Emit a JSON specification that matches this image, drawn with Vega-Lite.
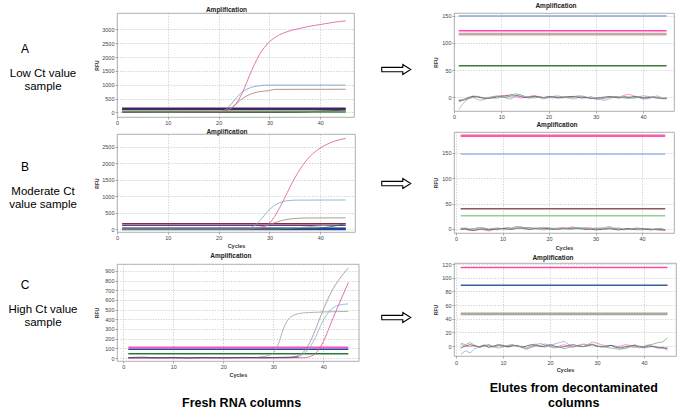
{
"$schema": "https://vega.github.io/schema/vega-lite/v6.json",
"padding": {"left": 0, "top": 2, "right": 0, "bottom": 0},
"spacing": 0,
"datasets": {
"labels": [
{"g":"A","k":"letter","t":"A"},{"g":"A","k":"desc","t":"Low Ct value\nsample"},
{"g":"B","k":"letter","t":"B"},{"g":"B","k":"desc","t":"Moderate Ct\nvalue sample"},
{"g":"C","k":"letter","t":"C"},{"g":"C","k":"desc","t":"High Ct value\nsample"}
],
"aL": [
{"s":"t1","c":1,"v":140},{"s":"t1","c":45,"v":140},
{"s":"t2","c":1,"v":110},{"s":"t2","c":45,"v":110},
{"s":"t3","c":1,"v":45},{"s":"t3","c":45,"v":45},
{"s":"t4","c":1,"v":15},{"s":"t4","c":45,"v":15},
{"s":"p","c":1,"v":0},{"s":"p","c":18,"v":5},{"s":"p","c":19,"v":10},{"s":"p","c":20,"v":25},{"s":"p","c":21,"v":60},{"s":"p","c":22,"v":120},{"s":"p","c":23,"v":220},{"s":"p","c":24,"v":480},{"s":"p","c":25,"v":850},{"s":"p","c":26,"v":1300},{"s":"p","c":27,"v":1720},{"s":"p","c":28,"v":2080},{"s":"p","c":29,"v":2350},{"s":"p","c":30,"v":2560},{"s":"p","c":31,"v":2700},{"s":"p","c":32,"v":2810},{"s":"p","c":33,"v":2890},{"s":"p","c":34,"v":2950},{"s":"p","c":35,"v":3000},{"s":"p","c":36,"v":3040},{"s":"p","c":37,"v":3080},{"s":"p","c":38,"v":3120},{"s":"p","c":39,"v":3150},{"s":"p","c":40,"v":3180},{"s":"p","c":41,"v":3210},{"s":"p","c":42,"v":3240},{"s":"p","c":43,"v":3270},{"s":"p","c":44,"v":3290},{"s":"p","c":45,"v":3310},
{"s":"b","c":1,"v":0},{"s":"b","c":19,"v":5},{"s":"b","c":20,"v":20},{"s":"b","c":21,"v":70},{"s":"b","c":22,"v":200},{"s":"b","c":23,"v":420},{"s":"b","c":24,"v":630},{"s":"b","c":25,"v":780},{"s":"b","c":26,"v":880},{"s":"b","c":27,"v":935},{"s":"b","c":28,"v":965},{"s":"b","c":29,"v":985},{"s":"b","c":30,"v":990},{"s":"b","c":45,"v":990},
{"s":"m","c":1,"v":0},{"s":"m","c":20,"v":5},{"s":"m","c":21,"v":30},{"s":"m","c":22,"v":100},{"s":"m","c":23,"v":240},{"s":"m","c":24,"v":400},{"s":"m","c":25,"v":540},{"s":"m","c":26,"v":640},{"s":"m","c":27,"v":710},{"s":"m","c":28,"v":750},{"s":"m","c":29,"v":775},{"s":"m","c":30,"v":790},{"s":"m","c":31,"v":835},{"s":"m","c":45,"v":840},
{"s":"k","c":1,"v":5},{"s":"k","c":30,"v":5},{"s":"k","c":35,"v":15},{"s":"k","c":38,"v":30},{"s":"k","c":40,"v":45},{"s":"k","c":42,"v":60},{"s":"k","c":44,"v":80},{"s":"k","c":45,"v":95},
{"s":"g","c":1,"v":15},{"s":"g","c":10,"v":10},{"s":"g","c":20,"v":20},{"s":"g","c":30,"v":25},{"s":"g","c":40,"v":40},{"s":"g","c":45,"v":50}
],
"bL": [
{"s":"t1","c":1,"v":160},{"s":"t1","c":45,"v":160},
{"s":"t2","c":1,"v":110},{"s":"t2","c":45,"v":110},
{"s":"t3","c":1,"v":25},{"s":"t3","c":45,"v":25},
{"s":"t4","c":1,"v":0},{"s":"t4","c":45,"v":0},
{"s":"p","c":1,"v":0},{"s":"p","c":26,"v":5},{"s":"p","c":27,"v":10},{"s":"p","c":28,"v":20},{"s":"p","c":29,"v":60},{"s":"p","c":30,"v":180},{"s":"p","c":31,"v":380},{"s":"p","c":32,"v":650},{"s":"p","c":33,"v":950},{"s":"p","c":34,"v":1270},{"s":"p","c":35,"v":1560},{"s":"p","c":36,"v":1820},{"s":"p","c":37,"v":2040},{"s":"p","c":38,"v":2220},{"s":"p","c":39,"v":2360},{"s":"p","c":40,"v":2470},{"s":"p","c":41,"v":2560},{"s":"p","c":42,"v":2630},{"s":"p","c":43,"v":2690},{"s":"p","c":44,"v":2730},{"s":"p","c":45,"v":2760},
{"s":"b","c":1,"v":0},{"s":"b","c":24,"v":5},{"s":"b","c":25,"v":15},{"s":"b","c":26,"v":35},{"s":"b","c":27,"v":100},{"s":"b","c":28,"v":230},{"s":"b","c":29,"v":420},{"s":"b","c":30,"v":590},{"s":"b","c":31,"v":720},{"s":"b","c":32,"v":800},{"s":"b","c":33,"v":850},{"s":"b","c":34,"v":870},{"s":"b","c":35,"v":880},{"s":"b","c":45,"v":885},
{"s":"m","c":1,"v":0},{"s":"m","c":26,"v":5},{"s":"m","c":27,"v":20},{"s":"m","c":28,"v":50},{"s":"m","c":29,"v":90},{"s":"m","c":30,"v":140},{"s":"m","c":31,"v":190},{"s":"m","c":32,"v":240},{"s":"m","c":33,"v":280},{"s":"m","c":34,"v":305},{"s":"m","c":35,"v":320},{"s":"m","c":36,"v":330},{"s":"m","c":37,"v":335},{"s":"m","c":45,"v":340},
{"s":"g","c":1,"v":0},{"s":"g","c":32,"v":5},{"s":"g","c":34,"v":20},{"s":"g","c":36,"v":45},{"s":"g","c":38,"v":75},{"s":"g","c":40,"v":100},{"s":"g","c":42,"v":120},{"s":"g","c":44,"v":135},{"s":"g","c":45,"v":140},
{"s":"k","c":1,"v":0},{"s":"k","c":38,"v":5},{"s":"k","c":40,"v":30},{"s":"k","c":42,"v":70},{"s":"k","c":44,"v":130},{"s":"k","c":45,"v":170}
],
"cL": [
{"s":"t1","c":1,"v":110},{"s":"t1","c":45,"v":110},
{"s":"t2","c":1,"v":90},{"s":"t2","c":45,"v":90},
{"s":"t3","c":1,"v":45},{"s":"t3","c":45,"v":45},
{"s":"g1","c":1,"v":0},{"s":"g1","c":33,"v":3},{"s":"g1","c":34,"v":10},{"s":"g1","c":35,"v":25},{"s":"g1","c":36,"v":60},{"s":"g1","c":37,"v":130},{"s":"g1","c":38,"v":240},{"s":"g1","c":39,"v":370},{"s":"g1","c":40,"v":500},{"s":"g1","c":41,"v":620},{"s":"g1","c":42,"v":720},{"s":"g1","c":43,"v":800},{"s":"g1","c":44,"v":870},{"s":"g1","c":45,"v":930},
{"s":"g2","c":1,"v":0},{"s":"g2","c":26,"v":3},{"s":"g2","c":27,"v":8},{"s":"g2","c":28,"v":15},{"s":"g2","c":29,"v":25},{"s":"g2","c":30,"v":55},{"s":"g2","c":31,"v":140},{"s":"g2","c":32,"v":300},{"s":"g2","c":33,"v":400},{"s":"g2","c":34,"v":440},{"s":"g2","c":35,"v":458},{"s":"g2","c":36,"v":466},{"s":"g2","c":37,"v":470},{"s":"g2","c":38,"v":472},{"s":"g2","c":39,"v":474},{"s":"g2","c":40,"v":476},{"s":"g2","c":45,"v":482},
{"s":"bl","c":1,"v":0},{"s":"bl","c":34,"v":3},{"s":"bl","c":35,"v":15},{"s":"bl","c":36,"v":40},{"s":"bl","c":37,"v":90},{"s":"bl","c":38,"v":170},{"s":"bl","c":39,"v":280},{"s":"bl","c":40,"v":390},{"s":"bl","c":41,"v":470},{"s":"bl","c":42,"v":520},{"s":"bl","c":43,"v":545},{"s":"bl","c":44,"v":555},{"s":"bl","c":45,"v":560},
{"s":"pk","c":1,"v":0},{"s":"pk","c":36,"v":3},{"s":"pk","c":37,"v":10},{"s":"pk","c":38,"v":30},{"s":"pk","c":39,"v":80},{"s":"pk","c":40,"v":170},{"s":"pk","c":41,"v":290},{"s":"pk","c":42,"v":420},{"s":"pk","c":43,"v":540},{"s":"pk","c":44,"v":660},{"s":"pk","c":45,"v":780},
{"s":"pu","c":1,"v":4},{"s":"pu","c":4,"v":8},{"s":"pu","c":7,"v":2},{"s":"pu","c":10,"v":6},{"s":"pu","c":13,"v":0},{"s":"pu","c":16,"v":5},{"s":"pu","c":20,"v":2},{"s":"pu","c":24,"v":6},{"s":"pu","c":28,"v":3},{"s":"pu","c":32,"v":7},{"s":"pu","c":35,"v":10}
],
"aR": [
{"s":"t1","c":1,"v":149},{"s":"t1","c":45,"v":149},
{"s":"t2","c":1,"v":122},{"s":"t2","c":45,"v":122},
{"s":"t3","c":1,"v":116},{"s":"t3","c":45,"v":116},
{"s":"t4","c":1,"v":58},{"s":"t4","c":45,"v":58},
{"s":"n1","c":1,"v":-4},{"s":"n1","c":2,"v":-5},{"s":"n1","c":3,"v":-2},{"s":"n1","c":4,"v":3},{"s":"n1","c":5,"v":2},{"s":"n1","c":6,"v":-1},{"s":"n1","c":7,"v":0},{"s":"n1","c":8,"v":1},{"s":"n1","c":9,"v":2},{"s":"n1","c":10,"v":4},{"s":"n1","c":11,"v":3},{"s":"n1","c":12,"v":1},{"s":"n1","c":13,"v":2},{"s":"n1","c":14,"v":-1},{"s":"n1","c":15,"v":0},{"s":"n1","c":16,"v":2},{"s":"n1","c":17,"v":4},{"s":"n1","c":18,"v":1},{"s":"n1","c":19,"v":-1},{"s":"n1","c":20,"v":0},{"s":"n1","c":21,"v":2},{"s":"n1","c":22,"v":1},{"s":"n1","c":23,"v":-1},{"s":"n1","c":24,"v":2},{"s":"n1","c":25,"v":1},{"s":"n1","c":26,"v":3},{"s":"n1","c":27,"v":2},{"s":"n1","c":28,"v":0},{"s":"n1","c":29,"v":-1},{"s":"n1","c":30,"v":-2},{"s":"n1","c":31,"v":-3},{"s":"n1","c":32,"v":-1},{"s":"n1","c":33,"v":1},{"s":"n1","c":34,"v":2},{"s":"n1","c":35,"v":1},{"s":"n1","c":36,"v":4},{"s":"n1","c":37,"v":6},{"s":"n1","c":38,"v":3},{"s":"n1","c":39,"v":1},{"s":"n1","c":40,"v":-1},{"s":"n1","c":41,"v":-2},{"s":"n1","c":42,"v":1},{"s":"n1","c":43,"v":3},{"s":"n1","c":44,"v":0},{"s":"n1","c":45,"v":-2},
{"s":"n2","c":1,"v":-22},{"s":"n2","c":2,"v":-10},{"s":"n2","c":3,"v":-3},{"s":"n2","c":4,"v":1},{"s":"n2","c":5,"v":-4},{"s":"n2","c":6,"v":-5},{"s":"n2","c":7,"v":-2},{"s":"n2","c":8,"v":0},{"s":"n2","c":9,"v":-2},{"s":"n2","c":10,"v":1},{"s":"n2","c":11,"v":-1},{"s":"n2","c":12,"v":-3},{"s":"n2","c":13,"v":2},{"s":"n2","c":14,"v":5},{"s":"n2","c":15,"v":1},{"s":"n2","c":16,"v":-2},{"s":"n2","c":17,"v":3},{"s":"n2","c":18,"v":0},{"s":"n2","c":19,"v":-3},{"s":"n2","c":20,"v":1},{"s":"n2","c":21,"v":-1},{"s":"n2","c":22,"v":0},{"s":"n2","c":23,"v":2},{"s":"n2","c":24,"v":1},{"s":"n2","c":25,"v":-3},{"s":"n2","c":26,"v":-1},{"s":"n2","c":27,"v":1},{"s":"n2","c":28,"v":-1},{"s":"n2","c":29,"v":2},{"s":"n2","c":30,"v":-2},{"s":"n2","c":31,"v":-4},{"s":"n2","c":32,"v":-5},{"s":"n2","c":33,"v":-2},{"s":"n2","c":34,"v":1},{"s":"n2","c":35,"v":0},{"s":"n2","c":36,"v":2},{"s":"n2","c":37,"v":1},{"s":"n2","c":38,"v":-2},{"s":"n2","c":39,"v":0},{"s":"n2","c":40,"v":-3},{"s":"n2","c":41,"v":-2},{"s":"n2","c":42,"v":0},{"s":"n2","c":43,"v":1},{"s":"n2","c":44,"v":-2},{"s":"n2","c":45,"v":-3},
{"s":"n3","c":1,"v":-6},{"s":"n3","c":2,"v":-4},{"s":"n3","c":3,"v":0},{"s":"n3","c":4,"v":2},{"s":"n3","c":5,"v":1},{"s":"n3","c":6,"v":-1},{"s":"n3","c":7,"v":-2},{"s":"n3","c":8,"v":-1},{"s":"n3","c":9,"v":1},{"s":"n3","c":10,"v":2},{"s":"n3","c":11,"v":3},{"s":"n3","c":12,"v":5},{"s":"n3","c":13,"v":4},{"s":"n3","c":14,"v":2},{"s":"n3","c":15,"v":0},{"s":"n3","c":16,"v":1},{"s":"n3","c":17,"v":2},{"s":"n3","c":18,"v":1},{"s":"n3","c":19,"v":0},{"s":"n3","c":20,"v":2},{"s":"n3","c":21,"v":1},{"s":"n3","c":22,"v":-1},{"s":"n3","c":23,"v":0},{"s":"n3","c":24,"v":1},{"s":"n3","c":25,"v":2},{"s":"n3","c":26,"v":1},{"s":"n3","c":27,"v":-1},{"s":"n3","c":28,"v":0},{"s":"n3","c":29,"v":-2},{"s":"n3","c":30,"v":-1},{"s":"n3","c":31,"v":0},{"s":"n3","c":32,"v":1},{"s":"n3","c":33,"v":2},{"s":"n3","c":34,"v":0},{"s":"n3","c":35,"v":-1},{"s":"n3","c":36,"v":1},{"s":"n3","c":37,"v":0},{"s":"n3","c":38,"v":2},{"s":"n3","c":39,"v":1},{"s":"n3","c":40,"v":-1},{"s":"n3","c":41,"v":0},{"s":"n3","c":42,"v":1},{"s":"n3","c":43,"v":-1},{"s":"n3","c":44,"v":-2},{"s":"n3","c":45,"v":-1},
{"s":"n4","c":1,"v":-8},{"s":"n4","c":2,"v":-5},{"s":"n4","c":3,"v":-2},{"s":"n4","c":4,"v":0},{"s":"n4","c":5,"v":2},{"s":"n4","c":6,"v":0},{"s":"n4","c":7,"v":-2},{"s":"n4","c":8,"v":1},{"s":"n4","c":9,"v":3},{"s":"n4","c":10,"v":1},{"s":"n4","c":11,"v":0},{"s":"n4","c":12,"v":3},{"s":"n4","c":13,"v":7},{"s":"n4","c":14,"v":5},{"s":"n4","c":15,"v":2},{"s":"n4","c":16,"v":0},{"s":"n4","c":17,"v":-1},{"s":"n4","c":18,"v":1},{"s":"n4","c":19,"v":0},{"s":"n4","c":20,"v":-1},{"s":"n4","c":21,"v":2},{"s":"n4","c":22,"v":3},{"s":"n4","c":23,"v":1},{"s":"n4","c":24,"v":-1},{"s":"n4","c":25,"v":0},{"s":"n4","c":26,"v":2},{"s":"n4","c":27,"v":3},{"s":"n4","c":28,"v":1},{"s":"n4","c":29,"v":-1},{"s":"n4","c":30,"v":-3},{"s":"n4","c":31,"v":-2},{"s":"n4","c":32,"v":-1},{"s":"n4","c":33,"v":0},{"s":"n4","c":34,"v":2},{"s":"n4","c":35,"v":1},{"s":"n4","c":36,"v":-1},{"s":"n4","c":37,"v":-2},{"s":"n4","c":38,"v":0},{"s":"n4","c":39,"v":1},{"s":"n4","c":40,"v":3},{"s":"n4","c":41,"v":2},{"s":"n4","c":42,"v":0},{"s":"n4","c":43,"v":-1},{"s":"n4","c":44,"v":-2},{"s":"n4","c":45,"v":-1}
],
"bR": [
{"s":"t1","c":1,"v":184},{"s":"t1","c":45,"v":184},
{"s":"t2","c":1,"v":148},{"s":"t2","c":45,"v":148},
{"s":"t3","c":1,"v":40},{"s":"t3","c":45,"v":40},
{"s":"t4","c":1,"v":26},{"s":"t4","c":45,"v":26},
{"s":"n1","c":1,"v":2},{"s":"n1","c":2,"v":-1},{"s":"n1","c":3,"v":-3},{"s":"n1","c":4,"v":-2},{"s":"n1","c":5,"v":0},{"s":"n1","c":6,"v":-2},{"s":"n1","c":7,"v":-4},{"s":"n1","c":8,"v":-1},{"s":"n1","c":9,"v":1},{"s":"n1","c":10,"v":0},{"s":"n1","c":11,"v":2},{"s":"n1","c":12,"v":1},{"s":"n1","c":13,"v":4},{"s":"n1","c":14,"v":3},{"s":"n1","c":15,"v":1},{"s":"n1","c":16,"v":0},{"s":"n1","c":17,"v":2},{"s":"n1","c":18,"v":-1},{"s":"n1","c":19,"v":-2},{"s":"n1","c":20,"v":0},{"s":"n1","c":21,"v":1},{"s":"n1","c":22,"v":2},{"s":"n1","c":23,"v":3},{"s":"n1","c":24,"v":2},{"s":"n1","c":25,"v":4},{"s":"n1","c":26,"v":2},{"s":"n1","c":27,"v":1},{"s":"n1","c":28,"v":3},{"s":"n1","c":29,"v":2},{"s":"n1","c":30,"v":0},{"s":"n1","c":31,"v":-1},{"s":"n1","c":32,"v":1},{"s":"n1","c":33,"v":3},{"s":"n1","c":34,"v":1},{"s":"n1","c":35,"v":0},{"s":"n1","c":36,"v":-2},{"s":"n1","c":37,"v":-1},{"s":"n1","c":38,"v":1},{"s":"n1","c":39,"v":0},{"s":"n1","c":40,"v":-2},{"s":"n1","c":41,"v":-1},{"s":"n1","c":42,"v":0},{"s":"n1","c":43,"v":-2},{"s":"n1","c":44,"v":-3},{"s":"n1","c":45,"v":-1},
{"s":"n2","c":1,"v":0},{"s":"n2","c":2,"v":1},{"s":"n2","c":3,"v":-1},{"s":"n2","c":4,"v":0},{"s":"n2","c":5,"v":2},{"s":"n2","c":6,"v":1},{"s":"n2","c":7,"v":-1},{"s":"n2","c":8,"v":0},{"s":"n2","c":9,"v":-2},{"s":"n2","c":10,"v":1},{"s":"n2","c":11,"v":3},{"s":"n2","c":12,"v":2},{"s":"n2","c":13,"v":5},{"s":"n2","c":14,"v":4},{"s":"n2","c":15,"v":2},{"s":"n2","c":16,"v":3},{"s":"n2","c":17,"v":1},{"s":"n2","c":18,"v":-1},{"s":"n2","c":19,"v":0},{"s":"n2","c":20,"v":2},{"s":"n2","c":21,"v":1},{"s":"n2","c":22,"v":-1},{"s":"n2","c":23,"v":0},{"s":"n2","c":24,"v":2},{"s":"n2","c":25,"v":1},{"s":"n2","c":26,"v":3},{"s":"n2","c":27,"v":2},{"s":"n2","c":28,"v":0},{"s":"n2","c":29,"v":-1},{"s":"n2","c":30,"v":1},{"s":"n2","c":31,"v":2},{"s":"n2","c":32,"v":3},{"s":"n2","c":33,"v":5},{"s":"n2","c":34,"v":2},{"s":"n2","c":35,"v":0},{"s":"n2","c":36,"v":-1},{"s":"n2","c":37,"v":1},{"s":"n2","c":38,"v":0},{"s":"n2","c":39,"v":-2},{"s":"n2","c":40,"v":-1},{"s":"n2","c":41,"v":1},{"s":"n2","c":42,"v":0},{"s":"n2","c":43,"v":-1},{"s":"n2","c":44,"v":0},{"s":"n2","c":45,"v":-2},
{"s":"n3","c":1,"v":-1},{"s":"n3","c":2,"v":0},{"s":"n3","c":3,"v":-2},{"s":"n3","c":4,"v":-3},{"s":"n3","c":5,"v":-1},{"s":"n3","c":6,"v":0},{"s":"n3","c":7,"v":-2},{"s":"n3","c":8,"v":-1},{"s":"n3","c":9,"v":0},{"s":"n3","c":10,"v":1},{"s":"n3","c":11,"v":0},{"s":"n3","c":12,"v":-1},{"s":"n3","c":13,"v":1},{"s":"n3","c":14,"v":2},{"s":"n3","c":15,"v":0},{"s":"n3","c":16,"v":-1},{"s":"n3","c":17,"v":1},{"s":"n3","c":18,"v":2},{"s":"n3","c":19,"v":1},{"s":"n3","c":20,"v":0},{"s":"n3","c":21,"v":-1},{"s":"n3","c":22,"v":0},{"s":"n3","c":23,"v":1},{"s":"n3","c":24,"v":0},{"s":"n3","c":25,"v":2},{"s":"n3","c":26,"v":1},{"s":"n3","c":27,"v":0},{"s":"n3","c":28,"v":-1},{"s":"n3","c":29,"v":0},{"s":"n3","c":30,"v":-2},{"s":"n3","c":31,"v":-1},{"s":"n3","c":32,"v":0},{"s":"n3","c":33,"v":1},{"s":"n3","c":34,"v":-1},{"s":"n3","c":35,"v":-2},{"s":"n3","c":36,"v":0},{"s":"n3","c":37,"v":1},{"s":"n3","c":38,"v":-1},{"s":"n3","c":39,"v":0},{"s":"n3","c":40,"v":1},{"s":"n3","c":41,"v":-1},{"s":"n3","c":42,"v":-2},{"s":"n3","c":43,"v":0},{"s":"n3","c":44,"v":-1},{"s":"n3","c":45,"v":-3},
{"s":"n4","c":1,"v":1},{"s":"n4","c":2,"v":2},{"s":"n4","c":3,"v":0},{"s":"n4","c":4,"v":1},{"s":"n4","c":5,"v":3},{"s":"n4","c":6,"v":2},{"s":"n4","c":7,"v":0},{"s":"n4","c":8,"v":1},{"s":"n4","c":9,"v":2},{"s":"n4","c":10,"v":0},{"s":"n4","c":11,"v":-1},{"s":"n4","c":12,"v":1},{"s":"n4","c":13,"v":2},{"s":"n4","c":14,"v":1},{"s":"n4","c":15,"v":3},{"s":"n4","c":16,"v":2},{"s":"n4","c":17,"v":0},{"s":"n4","c":18,"v":1},{"s":"n4","c":19,"v":3},{"s":"n4","c":20,"v":2},{"s":"n4","c":21,"v":0},{"s":"n4","c":22,"v":-1},{"s":"n4","c":23,"v":1},{"s":"n4","c":24,"v":0},{"s":"n4","c":25,"v":-1},{"s":"n4","c":26,"v":1},{"s":"n4","c":27,"v":2},{"s":"n4","c":28,"v":1},{"s":"n4","c":29,"v":0},{"s":"n4","c":30,"v":2},{"s":"n4","c":31,"v":1},{"s":"n4","c":32,"v":-1},{"s":"n4","c":33,"v":0},{"s":"n4","c":34,"v":1},{"s":"n4","c":35,"v":2},{"s":"n4","c":36,"v":0},{"s":"n4","c":37,"v":-1},{"s":"n4","c":38,"v":1},{"s":"n4","c":39,"v":2},{"s":"n4","c":40,"v":0},{"s":"n4","c":41,"v":1},{"s":"n4","c":42,"v":-1},{"s":"n4","c":43,"v":0},{"s":"n4","c":44,"v":1},{"s":"n4","c":45,"v":-1}
],
"cR": [
{"s":"t1","c":1,"v":115},{"s":"t1","c":45,"v":115},
{"s":"t2","c":1,"v":89},{"s":"t2","c":45,"v":89},
{"s":"t3","c":1,"v":47},{"s":"t3","c":45,"v":47},
{"s":"n1","c":1,"v":2},{"s":"n1","c":2,"v":0},{"s":"n1","c":3,"v":-1},{"s":"n1","c":4,"v":1},{"s":"n1","c":5,"v":-2},{"s":"n1","c":6,"v":0},{"s":"n1","c":7,"v":2},{"s":"n1","c":8,"v":-1},{"s":"n1","c":9,"v":1},{"s":"n1","c":10,"v":0},{"s":"n1","c":11,"v":-2},{"s":"n1","c":12,"v":1},{"s":"n1","c":13,"v":0},{"s":"n1","c":14,"v":-2},{"s":"n1","c":15,"v":-5},{"s":"n1","c":16,"v":-1},{"s":"n1","c":17,"v":2},{"s":"n1","c":18,"v":4},{"s":"n1","c":19,"v":1},{"s":"n1","c":20,"v":-1},{"s":"n1","c":21,"v":-3},{"s":"n1","c":22,"v":0},{"s":"n1","c":23,"v":2},{"s":"n1","c":24,"v":-1},{"s":"n1","c":25,"v":-2},{"s":"n1","c":26,"v":1},{"s":"n1","c":27,"v":3},{"s":"n1","c":28,"v":2},{"s":"n1","c":29,"v":6},{"s":"n1","c":30,"v":4},{"s":"n1","c":31,"v":2},{"s":"n1","c":32,"v":0},{"s":"n1","c":33,"v":1},{"s":"n1","c":34,"v":-1},{"s":"n1","c":35,"v":0},{"s":"n1","c":36,"v":2},{"s":"n1","c":37,"v":1},{"s":"n1","c":38,"v":-1},{"s":"n1","c":39,"v":-3},{"s":"n1","c":40,"v":0},{"s":"n1","c":41,"v":2},{"s":"n1","c":42,"v":-1},{"s":"n1","c":43,"v":-2},{"s":"n1","c":44,"v":-4},{"s":"n1","c":45,"v":-2},
{"s":"n2","c":1,"v":-12},{"s":"n2","c":2,"v":-7},{"s":"n2","c":3,"v":-10},{"s":"n2","c":4,"v":-4},{"s":"n2","c":5,"v":-1},{"s":"n2","c":6,"v":2},{"s":"n2","c":7,"v":0},{"s":"n2","c":8,"v":-2},{"s":"n2","c":9,"v":1},{"s":"n2","c":10,"v":-1},{"s":"n2","c":11,"v":0},{"s":"n2","c":12,"v":2},{"s":"n2","c":13,"v":-1},{"s":"n2","c":14,"v":0},{"s":"n2","c":15,"v":-3},{"s":"n2","c":16,"v":1},{"s":"n2","c":17,"v":3},{"s":"n2","c":18,"v":0},{"s":"n2","c":19,"v":-2},{"s":"n2","c":20,"v":1},{"s":"n2","c":21,"v":3},{"s":"n2","c":22,"v":5},{"s":"n2","c":23,"v":7},{"s":"n2","c":24,"v":2},{"s":"n2","c":25,"v":-1},{"s":"n2","c":26,"v":0},{"s":"n2","c":27,"v":2},{"s":"n2","c":28,"v":1},{"s":"n2","c":29,"v":3},{"s":"n2","c":30,"v":0},{"s":"n2","c":31,"v":-2},{"s":"n2","c":32,"v":-1},{"s":"n2","c":33,"v":1},{"s":"n2","c":34,"v":0},{"s":"n2","c":35,"v":-2},{"s":"n2","c":36,"v":-4},{"s":"n2","c":37,"v":-1},{"s":"n2","c":38,"v":2},{"s":"n2","c":39,"v":-1},{"s":"n2","c":40,"v":-3},{"s":"n2","c":41,"v":-2},{"s":"n2","c":42,"v":0},{"s":"n2","c":43,"v":-1},{"s":"n2","c":44,"v":-3},{"s":"n2","c":45,"v":-6},
{"s":"n3","c":1,"v":-3},{"s":"n3","c":2,"v":0},{"s":"n3","c":3,"v":2},{"s":"n3","c":4,"v":0},{"s":"n3","c":5,"v":-1},{"s":"n3","c":6,"v":1},{"s":"n3","c":7,"v":-2},{"s":"n3","c":8,"v":0},{"s":"n3","c":9,"v":2},{"s":"n3","c":10,"v":1},{"s":"n3","c":11,"v":-1},{"s":"n3","c":12,"v":0},{"s":"n3","c":13,"v":1},{"s":"n3","c":14,"v":-2},{"s":"n3","c":15,"v":0},{"s":"n3","c":16,"v":2},{"s":"n3","c":17,"v":1},{"s":"n3","c":18,"v":-1},{"s":"n3","c":19,"v":0},{"s":"n3","c":20,"v":2},{"s":"n3","c":21,"v":0},{"s":"n3","c":22,"v":-2},{"s":"n3","c":23,"v":-1},{"s":"n3","c":24,"v":1},{"s":"n3","c":25,"v":2},{"s":"n3","c":26,"v":0},{"s":"n3","c":27,"v":-1},{"s":"n3","c":28,"v":1},{"s":"n3","c":29,"v":2},{"s":"n3","c":30,"v":0},{"s":"n3","c":31,"v":-1},{"s":"n3","c":32,"v":0},{"s":"n3","c":33,"v":1},{"s":"n3","c":34,"v":-2},{"s":"n3","c":35,"v":-3},{"s":"n3","c":36,"v":-1},{"s":"n3","c":37,"v":0},{"s":"n3","c":38,"v":1},{"s":"n3","c":39,"v":-1},{"s":"n3","c":40,"v":-2},{"s":"n3","c":41,"v":0},{"s":"n3","c":42,"v":-1},{"s":"n3","c":43,"v":-3},{"s":"n3","c":44,"v":-2},{"s":"n3","c":45,"v":-4},
{"s":"n4","c":1,"v":4},{"s":"n4","c":2,"v":2},{"s":"n4","c":3,"v":5},{"s":"n4","c":4,"v":1},{"s":"n4","c":5,"v":-2},{"s":"n4","c":6,"v":0},{"s":"n4","c":7,"v":2},{"s":"n4","c":8,"v":-1},{"s":"n4","c":9,"v":-3},{"s":"n4","c":10,"v":-1},{"s":"n4","c":11,"v":1},{"s":"n4","c":12,"v":2},{"s":"n4","c":13,"v":0},{"s":"n4","c":14,"v":-1},{"s":"n4","c":15,"v":-4},{"s":"n4","c":16,"v":-2},{"s":"n4","c":17,"v":0},{"s":"n4","c":18,"v":1},{"s":"n4","c":19,"v":3},{"s":"n4","c":20,"v":0},{"s":"n4","c":21,"v":-2},{"s":"n4","c":22,"v":-1},{"s":"n4","c":23,"v":-4},{"s":"n4","c":24,"v":-2},{"s":"n4","c":25,"v":0},{"s":"n4","c":26,"v":1},{"s":"n4","c":27,"v":-1},{"s":"n4","c":28,"v":0},{"s":"n4","c":29,"v":2},{"s":"n4","c":30,"v":-1},{"s":"n4","c":31,"v":0},{"s":"n4","c":32,"v":-2},{"s":"n4","c":33,"v":-3},{"s":"n4","c":34,"v":-4},{"s":"n4","c":35,"v":-5},{"s":"n4","c":36,"v":-3},{"s":"n4","c":37,"v":-1},{"s":"n4","c":38,"v":-2},{"s":"n4","c":39,"v":0},{"s":"n4","c":40,"v":-1},{"s":"n4","c":41,"v":1},{"s":"n4","c":42,"v":3},{"s":"n4","c":43,"v":5},{"s":"n4","c":44,"v":6},{"s":"n4","c":45,"v":12}
]
},
"hconcat": [
{
"width": 94, "height": 380,
"view": {"stroke": null},
"data": {"name": "labels"},
"encoding": {"y": {"field": "g", "type": "nominal", "scale": {"type": "point", "range": [50, 286], "padding": 0}, "axis": null}, "text": {"field": "t", "type": "nominal"}},
"layer": [
{"transform": [{"filter": "datum.k == 'letter'"}], "mark": {"type": "text", "fontSize": 12, "dx": -22, "dy": -14.5, "align": "center", "baseline": "middle", "color": "#000"}, "encoding": {}},
{"transform": [{"filter": "datum.k == 'desc'"}], "mark": {"type": "text", "fontSize": 11.5, "dx": -4, "dy": 10.5, "align": "center", "baseline": "middle", "lineBreak": "\n", "lineHeight": 13, "color": "#000"}, "encoding": {}}
]
},
{
"spacing": 2,
"resolve": {"scale": {"color": "independent"}},
"title": {"text": "Fresh RNA columns", "orient": "bottom", "anchor": "middle", "frame": "bounds", "fontSize": 12.5, "fontWeight": "bold", "color": "#000", "dx": 15, "offset": 19},
"vconcat": [
{
"width": 237, "height": 104, "data": {"name": "aL"},
"title": {"text": "Amplification", "offset": 0, "dx": -9},
"encoding": {
"x": {"field": "c", "type": "quantitative", "scale": {"domain": [0, 46.64], "nice": false, "zero": false}, "axis": {"values": [0,10,20,30,40], "title": null}},
"y": {"field": "v", "type": "quantitative", "scale": {"domain": [-163, 3596], "nice": false, "zero": false}, "axis": {"values": [0,500,1000,1500,2000,2500,3000], "format": "d", "title": "RFU", "titlePadding": 2.5, "minExtent": 15, "maxExtent": 15}},
"color": {"field": "s", "type": "nominal", "legend": null, "scale": {"domain": ["t1","t2","t3","t4","p","b","m","k","g"], "range": ["#4a2060","#283a7a","#8a9a6a","#3a8a3a","#e0509f","#6f9fc0","#a07878","#303030","#70a070"]}}
},
"layer": [
{"transform": [{"filter": {"field": "s", "oneOf": ["t2","t3","t4"]}}], "mark": {"type": "line", "strokeWidth": 1.4}, "encoding": {}},
{"transform": [{"filter": {"field": "s", "oneOf": ["t1"]}}], "mark": {"type": "line", "strokeWidth": 2.4}, "encoding": {}},
{"transform": [{"filter": {"field": "s", "oneOf": ["p","b","m","k","g"]}}], "mark": {"type": "line", "strokeWidth": 0.8, "interpolate": "monotone"}, "encoding": {}}
]
},
{
"width": 238, "height": 98, "data": {"name": "bL"},
"title": {"text": "Amplification", "offset": -1, "dx": -9},
"encoding": {
"x": {"field": "c", "type": "quantitative", "scale": {"domain": [0, 46.82], "nice": false, "zero": false}, "axis": {"values": [0,10,20,30,40], "title": "Cycles", "titlePadding": 2.75}},
"y": {"field": "v", "type": "quantitative", "scale": {"domain": [-91, 2896], "nice": false, "zero": false}, "axis": {"values": [0,500,1000,1500,2000,2500], "format": "d", "title": "RFU", "titlePadding": 2.5, "minExtent": 15, "maxExtent": 15}},
"color": {"field": "s", "type": "nominal", "legend": null, "scale": {"domain": ["t1","t2","t3","t4","p","b","m","g","k"], "range": ["#8a2a3a","#6a3a8a","#2a6a7a","#1f3fa0","#e0509f","#7aa8c8","#a08080","#a0a0a0","#406040"]}}
},
"layer": [
{"transform": [{"filter": {"field": "s", "oneOf": ["t1","t2","t3"]}}], "mark": {"type": "line", "strokeWidth": 1.4}, "encoding": {}},
{"transform": [{"filter": {"field": "s", "oneOf": ["t4"]}}], "mark": {"type": "line", "strokeWidth": 2.4}, "encoding": {}},
{"transform": [{"filter": {"field": "s", "oneOf": ["p","b","m","g","k"]}}], "mark": {"type": "line", "strokeWidth": 0.8, "interpolate": "monotone"}, "encoding": {}}
]
},
{
"width": 241.7, "height": 97, "data": {"name": "cL"},
"title": {"text": "Amplification", "offset": 4.75, "dx": -7},
"encoding": {
"x": {"field": "c", "type": "quantitative", "scale": {"domain": [-1.26, 47.08], "nice": false, "zero": false}, "axis": {"values": [0,10,20,30,40], "title": "Cycles", "titlePadding": 2.75}},
"y": {"field": "v", "type": "quantitative", "scale": {"domain": [-31, 972], "nice": false, "zero": false}, "axis": {"values": [0,100,200,300,400,500,600,700,800,900], "format": "d", "title": "RFU", "titlePadding": 2.5, "minExtent": 15, "maxExtent": 15}},
"color": {"field": "s", "type": "nominal", "legend": null, "scale": {"domain": ["t1","t2","t3","g1","g2","bl","pk","pu"], "range": ["#ff4fbf","#30409a","#2a7a3a","#9a8a90","#90a890","#80aed0","#e04aa0","#5a2a6a"]}}
},
"layer": [
{"transform": [{"filter": {"field": "s", "oneOf": ["t1","t2","t3"]}}], "mark": {"type": "line", "strokeWidth": 1.5}, "encoding": {}},
{"transform": [{"filter": {"field": "s", "oneOf": ["g1","g2","bl","pk","pu"]}}], "mark": {"type": "line", "strokeWidth": 0.8, "interpolate": "monotone"}, "encoding": {}}
]
}
]
},
{
"spacing": 0,
"vconcat": [
{"width": 72.5, "height": 113, "view": {"stroke": null}, "data": {"values": [{"g": "A"}]}, "mark": {"type": "point", "shape": "M-1,-0.15L0.45,-0.15L0.45,-0.34L1,0L0.45,0.34L0.45,0.15L-1,0.15Z", "size": 841, "filled": true, "fill": "#ffffff", "stroke": "#000000", "strokeWidth": 1.1, "opacity": 1}, "encoding": {}},
{"width": 72.5, "height": 115, "view": {"stroke": null}, "data": {"values": [{"g": "B"}]}, "mark": {"type": "point", "shape": "M-1,-0.15L0.45,-0.15L0.45,-0.34L1,0L0.45,0.34L0.45,0.15L-1,0.15Z", "size": 841, "filled": true, "fill": "#ffffff", "stroke": "#000000", "strokeWidth": 1.1, "opacity": 1}, "encoding": {}},
{"width": 72.5, "height": 153, "view": {"stroke": null}, "data": {"values": [{"g": "C"}]}, "mark": {"type": "point", "shape": "M-1,-0.15L0.45,-0.15L0.45,-0.34L1,0L0.45,0.34L0.45,0.15L-1,0.15Z", "size": 841, "filled": true, "fill": "#ffffff", "stroke": "#000000", "strokeWidth": 1.1, "opacity": 1}, "encoding": {}}
]
},
{
"spacing": 2,
"resolve": {"scale": {"color": "independent"}},
"title": {"text": ["Elutes from decontaminated", "columns"], "orient": "bottom", "anchor": "middle", "frame": "bounds", "fontSize": 12.5, "fontWeight": "bold", "color": "#000", "dx": 19, "offset": 8.5, "lineHeight": 15},
"vconcat": [
{
"width": 220, "height": 98, "data": {"name": "aR"},
"title": {"text": "Amplification", "offset": 3.5, "dx": -8},
"encoding": {
"x": {"field": "c", "type": "quantitative", "scale": {"domain": [0, 46.56], "nice": false, "zero": false}, "axis": {"values": [0,10,20,30,40], "title": null}},
"y": {"field": "v", "type": "quantitative", "scale": {"domain": [-24.7, 154.6], "nice": false, "zero": false}, "axis": {"values": [0,50,100,150], "format": "d", "title": "RFU", "titlePadding": 2.5, "minExtent": 13, "maxExtent": 13}},
"color": {"field": "s", "type": "nominal", "legend": null, "scale": {"domain": ["t1","t2","t3","t4","n1","n2","n3","n4"], "range": ["#8aa6d6","#ff45b0","#c8a6a6","#3a7a3a","#ff6ab0","#86a6d8","#5a3a5a","#6aaa6a"]}}
},
"layer": [
{"transform": [{"filter": {"field": "s", "oneOf": ["t1","t2","t4"]}}], "mark": {"type": "line", "strokeWidth": 1.4}, "encoding": {}},
{"transform": [{"filter": {"field": "s", "oneOf": ["t3"]}}], "mark": {"type": "line", "strokeWidth": 2.6}, "encoding": {}},
{"transform": [{"filter": {"field": "s", "oneOf": ["n1","n2","n3","n4"]}}], "mark": {"type": "line", "strokeWidth": 0.7}, "encoding": {}}
]
},
{
"width": 220, "height": 101, "data": {"name": "bR"},
"title": {"text": "Amplification", "offset": 2, "dx": -7},
"encoding": {
"x": {"field": "c", "type": "quantitative", "scale": {"domain": [-0.43, 46.88], "nice": false, "zero": false}, "axis": {"values": [0,10,20,30,40], "title": "Cycles", "titlePadding": 3.75}},
"y": {"field": "v", "type": "quantitative", "scale": {"domain": [-8, 191.4], "nice": false, "zero": false}, "axis": {"values": [0,50,100,150], "format": "d", "title": "RFU", "titlePadding": 2.5, "minExtent": 13, "maxExtent": 13}},
"color": {"field": "s", "type": "nominal", "legend": null, "scale": {"domain": ["t1","t2","t3","t4","n1","n2","n3","n4"], "range": ["#ff5aaa","#9ab8e6","#8a5a5a","#9acc9a","#ff6ab0","#86a6d8","#5a3a5a","#6aaa6a"]}}
},
"layer": [
{"transform": [{"filter": {"field": "s", "oneOf": ["t2","t3","t4"]}}], "mark": {"type": "line", "strokeWidth": 1.5}, "encoding": {}},
{"transform": [{"filter": {"field": "s", "oneOf": ["t1"]}}], "mark": {"type": "line", "strokeWidth": 2.4}, "encoding": {}},
{"transform": [{"filter": {"field": "s", "oneOf": ["n1","n2","n3","n4"]}}], "mark": {"type": "line", "strokeWidth": 0.7}, "encoding": {}}
]
},
{
"width": 222, "height": 93, "data": {"name": "cR"},
"title": {"text": "Amplification", "offset": 0.25, "dx": -12},
"encoding": {
"x": {"field": "c", "type": "quantitative", "scale": {"domain": [-0.43, 46.8], "nice": false, "zero": false}, "axis": {"values": [0,10,20,30,40], "title": "Cycles", "titlePadding": 1.75, "labelPadding": 2}},
"y": {"field": "v", "type": "quantitative", "scale": {"domain": [-14.6, 121.5], "nice": false, "zero": false}, "axis": {"values": [0,20,40,60,80,100,120], "format": "d", "title": "RFU", "titlePadding": 2.5, "minExtent": 13, "maxExtent": 13}},
"color": {"field": "s", "type": "nominal", "legend": null, "scale": {"domain": ["t1","t2","t3","n1","n2","n3","n4"], "range": ["#ff4aa8","#3a5fa0","#aaa898","#ff6ab0","#86a6d8","#5a3a5a","#6aaa6a"]}}
},
"layer": [
{"transform": [{"filter": {"field": "s", "oneOf": ["t1","t2"]}}], "mark": {"type": "line", "strokeWidth": 1.6}, "encoding": {}},
{"transform": [{"filter": {"field": "s", "oneOf": ["t3"]}}], "mark": {"type": "line", "strokeWidth": 2.8}, "encoding": {}},
{"transform": [{"filter": {"field": "s", "oneOf": ["n1","n2","n3","n4"]}}], "mark": {"type": "line", "strokeWidth": 0.7}, "encoding": {}}
]
}
]
}
],
"resolve": {"scale": {"color": "independent"}},
"config": {
"font": "Liberation Sans",
"background": "#ffffff",
"view": {"stroke": "#9a9a9a", "strokeWidth": 0.8},
"axis": {"domain": false, "tickSize": 2, "tickColor": "#777777", "tickWidth": 0.6, "labelFontSize": 5.5, "labelColor": "#444444", "labelPadding": 1, "gridColor": "#b0b0b0", "gridDash": [1.2, 1.5], "gridWidth": 0.6, "titleFontSize": 5.5, "titleFontWeight": "bold", "titleColor": "#333333"},
"axisX": {"labelFlush": false, "labelOverlap": false},
"axisY": {"titleFontSize": 5},
"title": {"fontSize": 6.5, "fontWeight": "bold", "color": "#222222"}
}
}
